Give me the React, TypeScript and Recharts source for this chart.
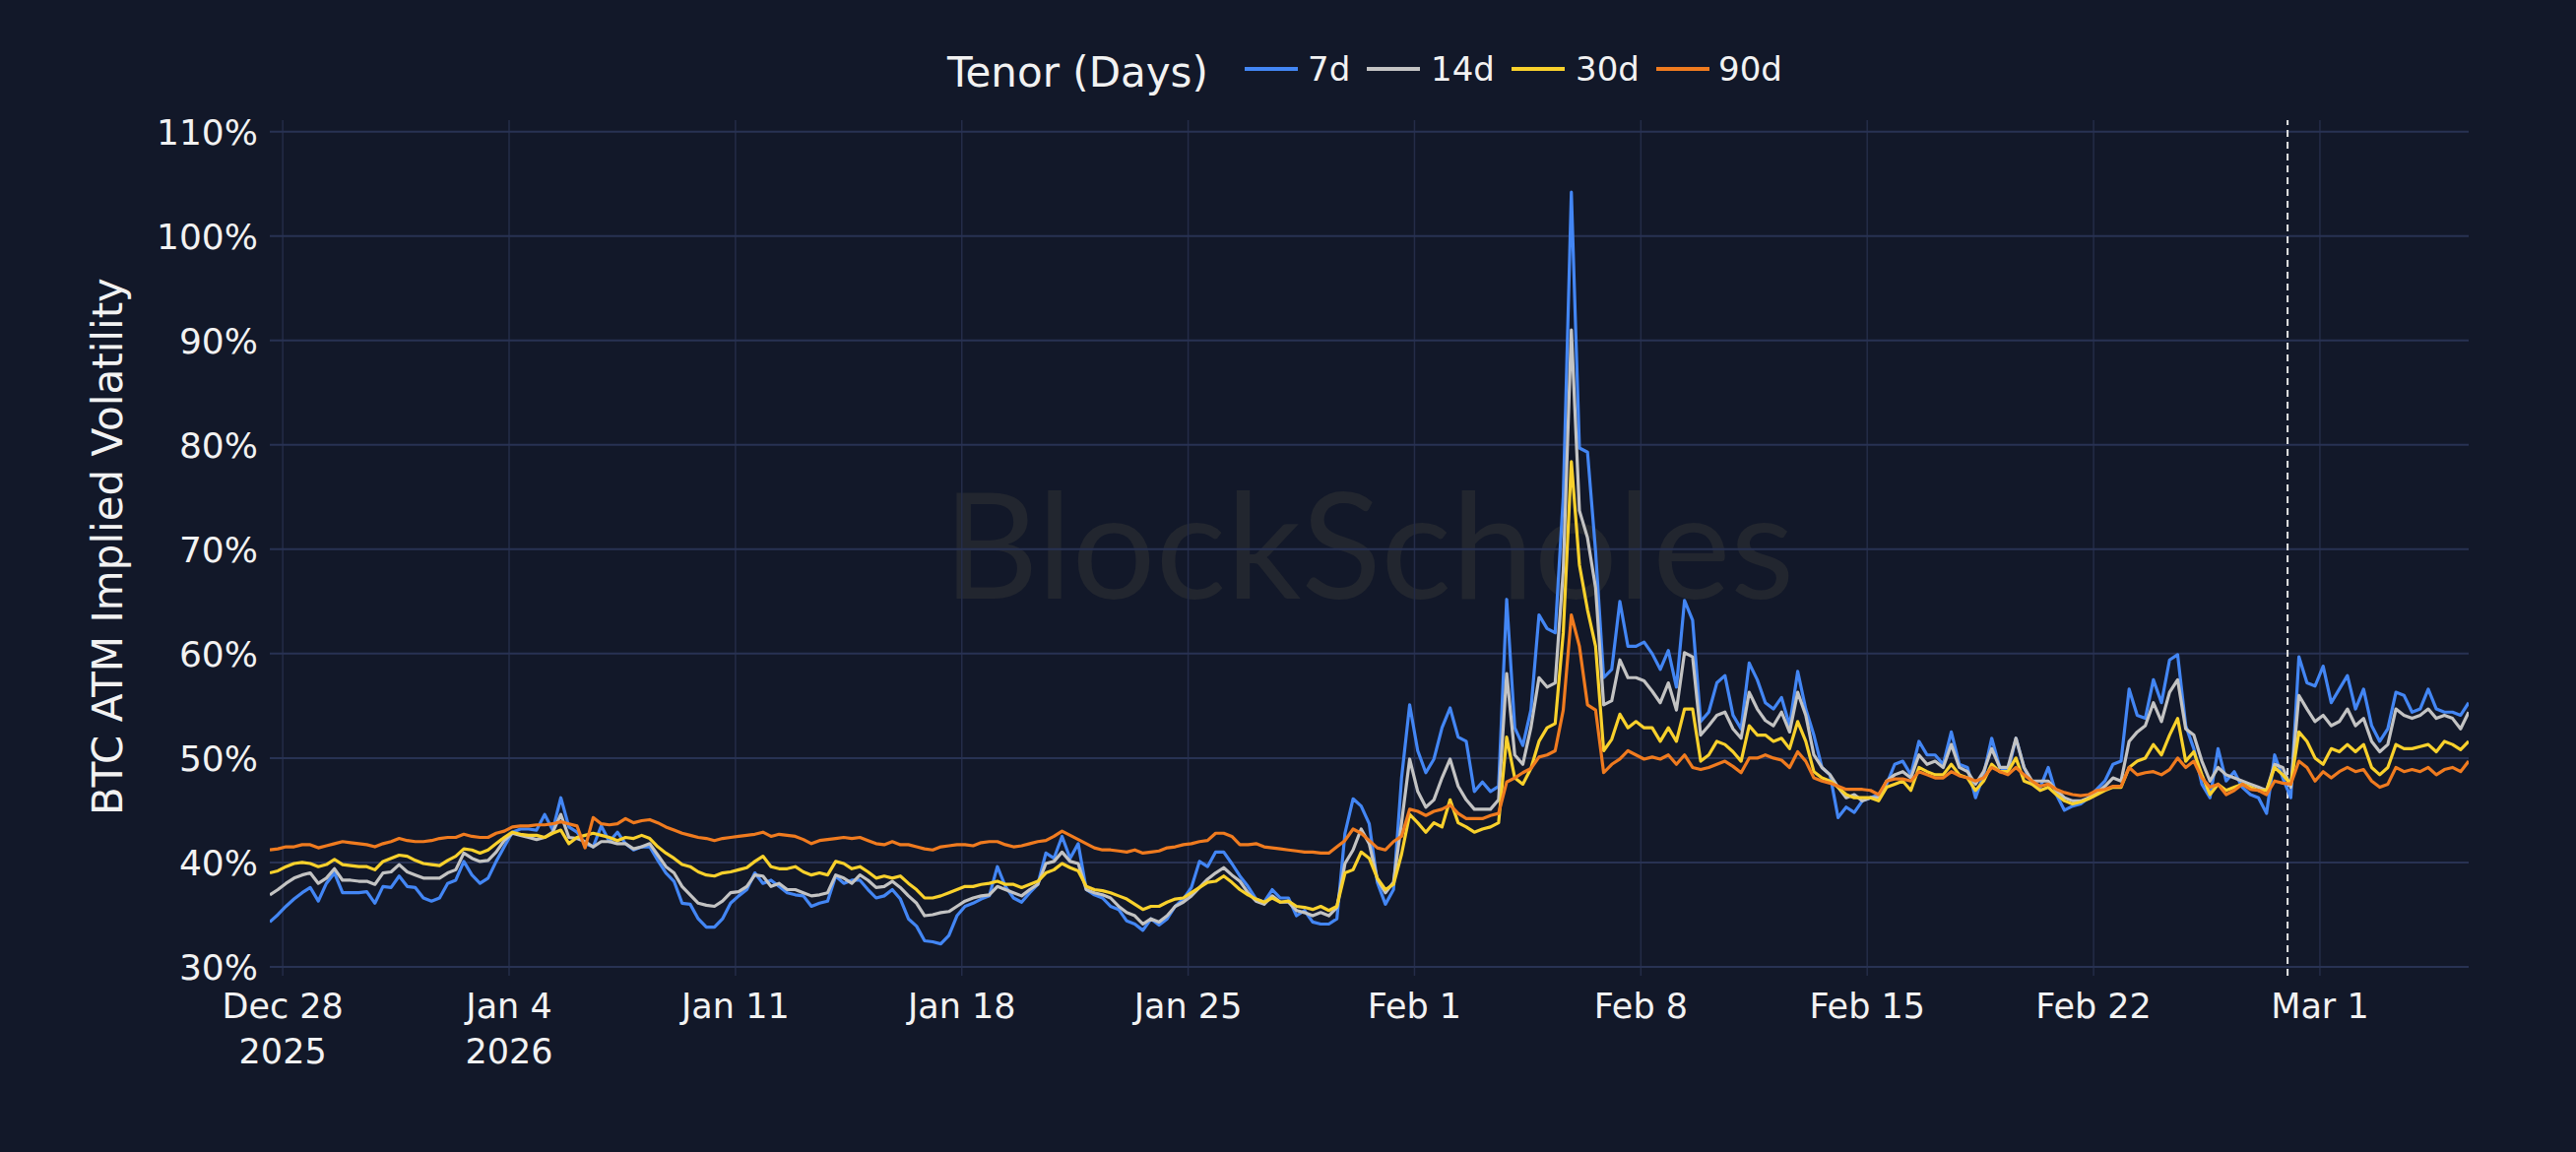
import React from "react";
import { Line, LineChart, ReferenceLine, XAxis, YAxis } from "recharts";

// sampling: every 6h, first point at Dec 27 ~14:24 (day 0 = Dec 28 00:00)
const START_DAY = -0.4;
const STEP_DAY = 0.25;

const vol7d = [
  34.3, 35.0, 35.8, 36.5, 37.1, 37.6, 36.3, 38.0, 39.0, 37.1, 37.1, 37.1, 37.2, 36.1, 37.7, 37.6, 38.7, 37.7, 37.6, 36.6,
  36.3, 36.6, 38.0, 38.3, 40.1, 38.8, 38.0, 38.5, 40.1, 41.5, 42.9, 43.2, 43.2, 43.1, 44.6, 43.1, 46.2, 43.4, 42.9, 41.8,
  41.5, 43.5, 42.0, 42.9, 41.8, 41.2, 41.5,
  41.5, 40.2, 39.0, 38.2, 36.1, 36.0, 34.6, 33.8, 33.8, 34.6, 36.1, 36.8, 37.4, 39.0, 38.0, 38.3, 37.7, 37.1, 36.9, 36.8,
  35.8, 36.1, 36.3, 38.7, 38.0, 38.3, 38.3, 37.4, 36.6, 36.8, 37.4, 36.5, 34.6, 33.9, 32.5, 32.4, 32.2, 33.0, 34.9, 35.8,
  36.1, 36.5, 36.8, 39.6, 37.7,
  36.6, 36.2, 37.1, 37.9, 40.9, 40.4, 42.5, 40.4, 41.8, 37.4, 36.9, 36.6, 35.8, 35.5, 34.4, 34.1, 33.5, 34.6, 34.0, 34.6,
  35.8, 36.5, 37.6, 40.1, 39.6, 41.0, 41.0, 39.9, 38.7, 37.7, 36.5, 36.2, 37.4, 36.6, 36.6, 34.9, 35.4, 34.3, 34.1, 34.1,
  34.6, 42.8, 46.1, 45.4, 43.7, 38.1, 36.0, 37.4,
  48.1, 55.1, 50.7, 48.6, 49.9, 52.9, 54.8, 52.0, 51.6, 46.8, 47.7, 46.8, 47.3, 65.2, 52.9, 51.2, 54.6, 63.7, 62.4, 62.0,
  75.0, 104.2, 79.7, 79.3, 69.8, 57.7, 58.5, 65.0, 60.7, 60.7, 61.1, 60.0, 58.5, 60.3, 56.8,
  65.1, 63.2, 53.5, 54.4, 57.2, 57.9, 54.1, 52.8, 59.1, 57.5, 55.3, 54.7, 55.8, 53.1, 58.3, 54.7, 52.2, 49.1, 48.4, 44.3,
  45.3, 44.8, 45.9, 46.2, 46.5, 47.5, 49.4, 49.7, 48.4, 51.6, 50.3, 50.3, 49.4, 52.5, 49.4, 49.1, 46.2, 48.4, 51.9, 49.1,
  48.7, 51.9, 49.1, 47.5, 47.2, 49.1, 46.5, 45.0,
  45.4, 45.6, 46.2, 47.0, 47.8, 49.4, 49.7, 56.6, 54.1, 53.8, 57.5, 55.3, 59.4, 59.9, 53.1, 50.9, 47.5, 46.2, 50.9, 47.8,
  48.7, 47.2, 46.5, 46.2, 44.7, 50.3, 48.1, 46.2, 59.7, 57.2, 56.9, 58.8, 55.3, 56.6, 57.9, 54.7, 56.6, 53.1, 51.6, 52.8,
  56.3, 56.0, 54.4, 54.7, 56.6, 54.7, 54.4, 54.4, 54.1, 55.3,
];

const vol14d = [
  36.9, 37.4, 38.0, 38.5, 38.8, 39.0, 38.0, 38.5, 39.4, 38.3, 38.3, 38.2, 38.2, 37.9, 39.0, 39.1, 39.8, 39.1, 38.8, 38.5,
  38.5, 38.5, 39.0, 39.3, 40.9, 40.4, 40.1, 40.2, 41.0, 42.1, 42.8, 42.6, 42.4, 42.2, 42.4, 42.9, 44.6, 42.4, 42.3, 42.0,
  41.5, 42.0, 42.0, 41.8, 41.8, 41.3, 41.5,
  41.8, 40.7, 39.6, 39.0, 37.7, 36.9, 36.1, 35.9, 35.8, 36.3, 37.1, 37.2, 37.7, 38.8, 38.7, 37.7, 38.0, 37.4, 37.4, 37.1,
  36.8, 36.9, 37.1, 38.8, 38.5, 38.0, 38.8, 38.3, 37.6, 37.7, 38.2, 37.6, 36.8, 36.1, 34.9, 35.0, 35.2, 35.3, 35.8, 36.3,
  36.6, 36.8, 36.9, 37.7, 37.4,
  37.1, 36.8, 37.4, 37.9, 39.9, 40.1, 41.0, 40.1, 39.9, 37.4, 37.1, 36.9, 36.6, 35.8, 35.2, 34.9, 34.1, 34.6, 34.3, 34.9,
  35.8, 36.2, 36.8, 37.6, 38.4, 39.0, 39.5, 38.8, 38.2, 37.1, 36.3, 36.0, 36.8, 36.2, 36.2, 35.4, 35.2, 34.9, 35.2, 34.9,
  35.7, 39.9, 41.2, 43.2, 41.8, 38.4, 37.1, 38.1,
  43.8, 49.9, 46.8, 45.3, 46.0, 48.1, 49.9, 47.3, 46.0, 45.1, 45.1, 45.1, 46.0, 58.1, 50.3, 49.4, 52.9, 57.7, 56.8, 57.2,
  68.0, 91.0, 73.7, 71.1, 66.3, 55.1, 55.5, 59.4, 57.7, 57.7, 57.4, 56.4, 55.3, 57.2, 54.6,
  60.1, 59.7, 52.2, 53.1, 54.1, 54.4, 52.8, 51.9, 56.3, 54.7, 53.6, 53.1, 54.4, 52.5, 56.3, 54.1, 50.3, 49.1, 48.4, 47.2,
  46.2, 46.5, 45.9, 46.2, 46.2, 47.8, 48.4, 48.7, 48.1, 50.3, 49.4, 49.7, 49.1, 51.3, 49.1, 48.7, 47.5, 48.7, 50.9, 49.1,
  49.1, 51.9, 49.1, 47.8, 47.8, 47.8, 46.9, 46.2,
  45.9, 45.9, 46.2, 46.7, 47.3, 48.1, 47.8, 51.6, 52.5, 53.1, 55.3, 53.5, 56.3, 57.5, 52.8, 52.2, 49.7, 47.8, 49.1, 48.4,
  48.1, 47.8, 47.5, 47.2, 46.9, 49.4, 49.1, 47.2, 56.0, 54.7, 53.5, 54.1, 53.1, 53.5, 54.7, 53.1, 53.8, 51.6, 50.6, 51.3,
  54.7, 54.1, 53.8, 54.1, 54.7, 53.8, 54.1, 53.8, 52.8, 54.4,
];

const vol30d = [
  39.0, 39.2, 39.6, 39.9, 40.0, 39.9, 39.6, 39.8, 40.3, 39.8, 39.7, 39.6, 39.6, 39.3, 40.1, 40.4, 40.7, 40.6, 40.2, 39.9,
  39.8, 39.7, 40.2, 40.6, 41.3, 41.2, 40.9, 41.2, 41.8, 42.4, 42.9, 42.7, 42.6, 42.6, 42.4, 42.8, 43.1, 41.8, 42.4, 42.6,
  42.8, 42.6, 42.4, 42.1, 42.4, 42.3, 42.6,
  42.3, 41.5, 40.9, 40.4, 39.8, 39.6, 39.1, 38.8, 38.7, 39.0, 39.1, 39.3, 39.5, 40.1, 40.6, 39.6, 39.4, 39.4, 39.6, 39.1,
  38.8, 39.0, 38.8, 40.1, 39.9, 39.4, 39.6, 39.1, 38.5, 38.7, 38.5, 38.7, 38.0, 37.4, 36.6, 36.6, 36.8, 37.1, 37.4, 37.7,
  37.7, 37.9, 38.0, 38.2, 37.9,
  37.9, 37.6, 37.9, 38.2, 39.0, 39.3, 39.9, 39.5, 39.2, 37.7, 37.4, 37.3, 37.1, 36.8, 36.5, 36.0, 35.5, 35.8, 35.8, 36.2,
  36.5, 36.6, 37.1, 37.6, 38.1, 38.2, 38.7, 38.1, 37.4, 36.9, 36.5, 36.2, 36.6, 36.2, 36.3, 35.8, 35.7, 35.5, 35.8, 35.4,
  35.8, 39.0, 39.3, 41.0, 40.4, 38.5, 37.4, 37.9,
  40.8, 44.6, 43.8, 42.9, 43.8, 43.4, 46.0, 43.8, 43.4, 42.9, 43.2, 43.4, 43.8, 52.0, 48.1, 47.5, 49.0, 51.6, 52.9, 53.3,
  62.0, 78.4, 68.5, 64.2, 60.7, 50.7, 51.8, 54.2, 52.9, 53.5, 52.9, 52.9, 51.6, 52.9, 51.6,
  54.7, 54.7, 49.7, 50.3, 51.6, 51.3, 50.6, 49.7, 53.1, 52.2, 52.2, 51.6, 51.9, 50.9, 53.5, 51.6, 48.7, 48.1, 47.8, 47.2,
  46.5, 46.2, 46.2, 46.2, 45.9, 47.2, 47.5, 47.8, 46.9, 49.1, 48.7, 48.4, 48.4, 49.4, 48.4, 48.1, 46.9, 47.8, 49.4, 48.7,
  48.7, 50.0, 47.8, 47.5, 46.9, 47.2, 46.5, 45.9,
  45.6, 45.8, 46.1, 46.5, 46.9, 47.2, 47.2, 49.1, 49.7, 50.0, 51.3, 50.3, 52.2, 53.8, 49.7, 50.6, 48.4, 46.5, 47.5, 46.9,
  47.2, 47.5, 47.2, 46.9, 46.9, 49.1, 48.4, 47.5, 52.5, 51.6, 50.0, 49.4, 50.9, 50.6, 51.3, 50.6, 51.3, 49.1, 48.4, 49.1,
  51.3, 50.9, 50.9, 51.1, 51.3, 50.6, 51.6, 51.3, 50.8, 51.6,
];

const vol90d = [
  41.2, 41.3, 41.5, 41.5, 41.7, 41.7, 41.4, 41.6, 41.8, 42.0, 41.9, 41.8, 41.7, 41.5, 41.8, 42.0, 42.3, 42.1, 42.0, 42.0,
  42.1, 42.3, 42.4, 42.4, 42.7, 42.5, 42.4, 42.4, 42.8, 43.0, 43.4, 43.5, 43.5, 43.6, 43.6, 43.7, 43.9, 43.7, 43.5, 41.4,
  44.3, 43.7, 43.6, 43.7, 44.2, 43.8, 44.0,
  44.1, 43.8, 43.4, 43.1, 42.8, 42.6, 42.4, 42.3, 42.1, 42.3, 42.4, 42.5, 42.6, 42.7, 42.9, 42.5, 42.7, 42.6, 42.5, 42.2,
  41.8, 42.1, 42.2, 42.3, 42.4, 42.3, 42.4, 42.1, 41.8, 41.7, 42.0, 41.7, 41.7, 41.5, 41.3, 41.2, 41.5, 41.6, 41.7, 41.7,
  41.6, 41.9, 42.0, 42.0, 41.7,
  41.5, 41.6, 41.8, 42.0, 42.1, 42.5, 43.0, 42.6, 42.2, 41.8, 41.4, 41.2, 41.2, 41.1, 41.0, 41.2, 40.9, 41.0, 41.1, 41.4,
  41.5, 41.7, 41.8, 42.0, 42.1, 42.8, 42.8, 42.5, 41.7, 41.7, 41.8, 41.5, 41.4, 41.3, 41.2, 41.1, 41.0, 41.0, 40.9, 40.9,
  41.5, 42.1, 43.2, 42.8, 42.1, 41.4, 41.2, 42.0,
  42.5, 45.1, 44.9, 44.5, 44.9, 45.1, 45.5, 44.7, 44.2, 44.2, 44.2, 44.5, 44.7, 47.7, 48.1, 48.6, 49.0, 50.1, 50.3, 50.7,
  54.6, 63.7, 60.7, 55.1, 54.6, 48.6, 49.4, 49.9, 50.7, 50.3, 49.9, 50.1, 49.9, 50.3, 49.4,
  50.3, 49.1, 48.9, 49.1, 49.4, 49.7, 49.2, 48.6, 50.0, 50.0, 50.3, 50.0, 49.8, 49.1, 50.6, 49.7, 48.1, 47.8, 47.6, 47.3,
  47.0, 47.0, 47.0, 46.9, 46.5, 47.8, 48.0, 48.0, 47.8, 48.7, 48.4, 48.1, 48.1, 48.7, 48.3, 48.1, 47.8, 48.1, 49.1, 48.7,
  48.4, 49.1, 48.4, 47.8, 47.3, 47.5, 47.0, 46.7,
  46.5, 46.4, 46.5, 46.9, 47.0, 47.3, 47.3, 49.1, 48.4, 48.6, 48.7, 48.4, 48.9, 50.0, 49.1, 49.7, 48.1, 47.2, 47.5, 46.5,
  46.9, 47.5, 47.0, 46.9, 46.5, 47.8, 47.6, 47.5, 49.7, 49.1, 47.8, 48.7, 48.1, 48.7, 49.1, 48.7, 48.9, 47.8, 47.2, 47.5,
  49.1, 48.7, 48.9, 48.7, 49.1, 48.4, 48.9, 49.1, 48.7, 49.7,
];

const tickDays = [0, 7, 14, 21, 28, 35, 42, 49, 56, 63];
const tickLabels = [
  ["Dec 28", "2025"],
  ["Jan 4", "2026"],
  ["Jan 11"],
  ["Jan 18"],
  ["Jan 25"],
  ["Feb 1"],
  ["Feb 8"],
  ["Feb 15"],
  ["Feb 22"],
  ["Mar 1"],
];
const yTicks = [30, 40, 50, 60, 70, 80, 90, 100, 110];
const markerDay = 62; // Feb 28

const series = [
  { key: "d7", name: "7d", color: "#4386f4", values: vol7d },
  { key: "d14", name: "14d", color: "#c3c3c3", values: vol14d },
  { key: "d30", name: "30d", color: "#f9d12c", values: vol30d },
  { key: "d90", name: "90d", color: "#f07b1f", values: vol90d },
];

const data = vol7d.map((_, i) => ({
  day: START_DAY + i * STEP_DAY,
  d7: vol7d[i],
  d14: vol14d[i],
  d30: vol30d[i],
  d90: vol90d[i],
}));

const W = 2616;
const H = 1170;
const BG = "#121829";
const TEXT = "#f2f2f2";
const FONT = "'DejaVu Sans', Verdana, sans-serif";

const XTick = (props: any) => {
  const idx = tickDays.indexOf(props.payload.value);
  const lines = tickLabels[idx] || [];
  return (
    <text x={props.x} y={1034} textAnchor="middle" fill={TEXT} fontSize={35} fontFamily={FONT}>
      {lines.map((l, i) => (
        <tspan key={i} x={props.x} y={1034 + i * 46}>
          {l}
        </tspan>
      ))}
    </text>
  );
};

const YTick = (props: any) => (
  <text x={262} y={props.y} dy="0.36em" textAnchor="end" fill={TEXT} fontSize={36} fontFamily={FONT}>
    {props.payload.value}%
  </text>
);

const legendItems = [
  { x: 1264, tx: 1328 },
  { x: 1388, tx: 1453 },
  { x: 1535, tx: 1600 },
  { x: 1682, tx: 1745 },
];

export default function App() {
  return (
    <div style={{ position: "absolute", left: 0, top: 0, width: W, height: H, background: BG, overflow: "hidden" }}>
      <svg width={W} height={H} style={{ position: "absolute", left: 0, top: 0 }}>
        <text
          x={1390}
          y={608}
          textAnchor="middle"
          fill="#22262f"
          fontSize={150}
          fontFamily="Lato, 'Noto Sans', sans-serif"
        >
          BlockScholes
        </text>
      </svg>
      <div style={{ position: "absolute", left: 0, top: 0 }}>
        <LineChart width={W} height={H} data={data} margin={{ top: 122, right: 109, bottom: 0, left: 0 }}>
          <XAxis
            dataKey="day"
            type="number"
            domain={[START_DAY, 67.6]}
            ticks={tickDays}
            allowDataOverflow
            height={179}
            axisLine={false}
            tickLine={false}
            tick={<XTick />}
            interval={0}
          />
          <YAxis
            type="number"
            domain={[29.15, 111.1]}
            ticks={yTicks}
            allowDataOverflow
            width={274}
            axisLine={false}
            tickLine={false}
            tick={<YTick />}
            interval={0}
          />
          {tickDays.map((d) => (
            <ReferenceLine key={"vx" + d} x={d} stroke="#242c48" strokeWidth={1.5} />
          ))}
          {yTicks.map((v) => (
            <ReferenceLine key={"hy" + v} y={v} stroke="#283253" strokeWidth={2} />
          ))}
          <ReferenceLine x={markerDay} stroke="#e6e6e6" strokeWidth={2} strokeDasharray="7 5" />
          {series.map((s) => (
            <Line
              key={s.key}
              type="linear"
              dataKey={s.key}
              name={s.name}
              stroke={s.color}
              strokeWidth={3.2}
              strokeLinejoin="round"
              dot={false}
              activeDot={false}
              isAnimationActive={false}
            />
          ))}
        </LineChart>
      </div>
      <svg width={W} height={H} style={{ position: "absolute", left: 0, top: 0, pointerEvents: "none" }}>
        <text
          transform="translate(124,555) rotate(-90)"
          textAnchor="middle"
          fill={TEXT}
          fontSize={42}
          fontFamily={FONT}
        >
          BTC ATM Implied Volatility
        </text>
        <text x={962} y={88} fill={TEXT} fontSize={42} fontFamily={FONT}>
          Tenor (Days)
        </text>
        {series.map((s, i) => (
          <g key={s.key}>
            <line x1={legendItems[i].x} x2={legendItems[i].x + 54} y1={70} y2={70} stroke={s.color} strokeWidth={4} />
            <text x={legendItems[i].tx} y={82} fill={TEXT} fontSize={34} fontFamily={FONT}>
              {s.name}
            </text>
          </g>
        ))}
      </svg>
    </div>
  );
}
